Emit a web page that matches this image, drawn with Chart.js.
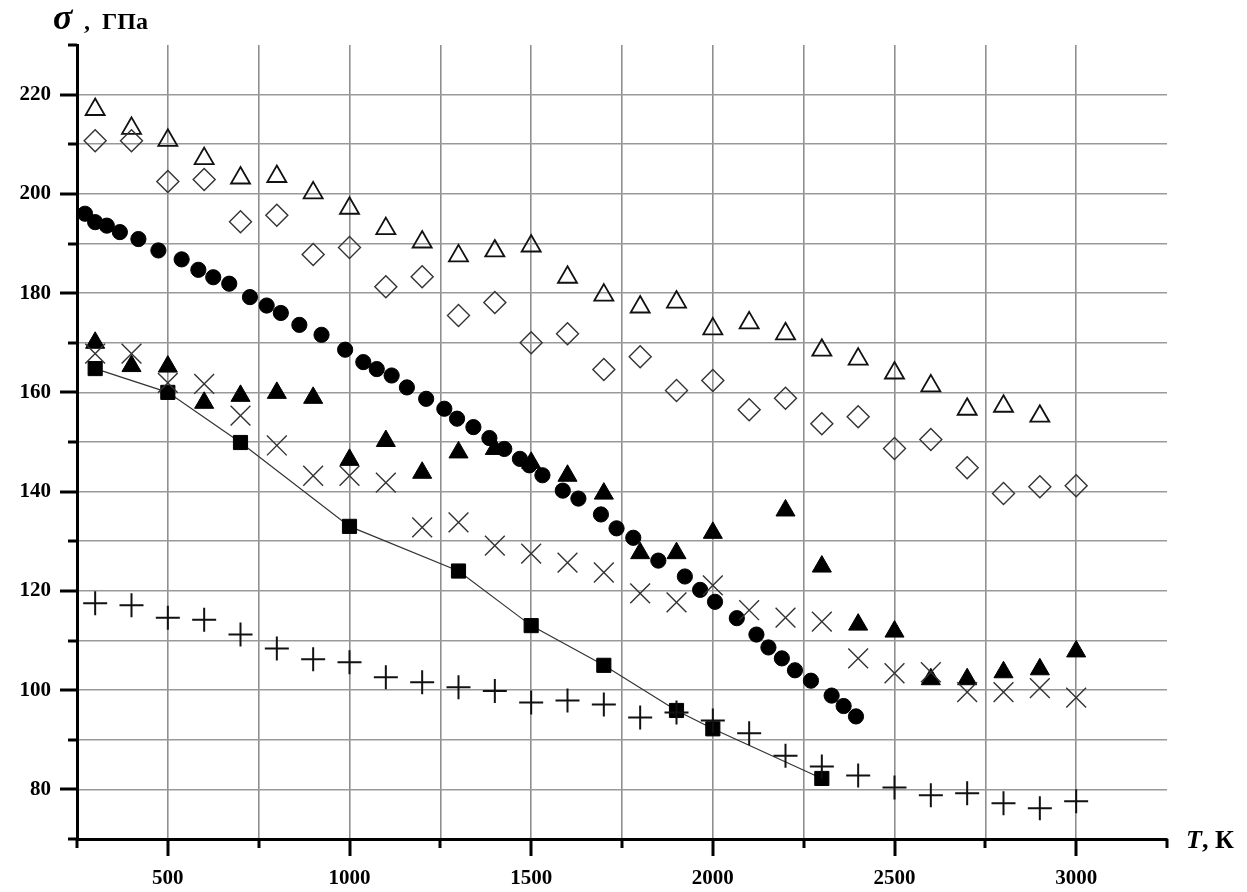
<!DOCTYPE html>
<html>
<head>
<meta charset="utf-8">
<script src="https://cdn.jsdelivr.net/npm/chart.js@4.4.1/dist/chart.umd.min.js"></script>
<style>
  html, body { margin: 0; padding: 0; background: #fff; }
  #wrap { width: 1247px; height: 892px; position: relative; }
</style>
</head>
<body>
<div id="wrap"><canvas id="c" width="1247" height="892"></canvas></div>
<script>
// ---- Data ----
const T_FULL = [300,400,500,600,700,800,900,1000,1100,1200,1300,1400,1500,1600,1700,1800,1900,2000,2100,2200,2300,2400,2500,2600,2700,2800,2900,3000];

const openTriT = [300,400,500,600,700,800,900,1000,1100,1200,1300,1400,1500,1600,1700,1800,1900,2000,2100,2200,2300,2400,2500,2600,2700,2800,2900];
const openTriS = [217.0,213.2,210.8,207.1,203.2,203.5,200.2,197.1,193.0,190.3,187.5,188.5,189.5,183.2,179.6,177.2,178.2,172.8,174.0,171.8,168.5,166.7,163.9,161.3,156.6,157.2,155.2];

const diamondT = T_FULL;
const diamondS = [210.7,210.7,202.5,202.9,194.4,195.7,187.8,189.2,181.3,183.3,175.5,178.1,170.0,171.8,164.6,167.2,160.4,162.4,156.5,158.8,153.7,155.1,148.7,150.5,144.8,139.6,141.0,141.2];

const circleT = [272,300,332,368,419,474,538,584,625,669,726,772,811,862,923,988,1038,1075,1116,1158,1211,1261,1296,1341,1385,1426,1469,1495,1531,1587,1630,1692,1735,1781,1850,1923,1965,2006,2066,2120,2153,2190,2226,2270,2327,2360,2394];
const circleS = [196.0,194.3,193.6,192.3,190.9,188.6,186.8,184.7,183.2,181.9,179.2,177.5,176.0,173.6,171.6,168.6,166.1,164.7,163.4,161.0,158.7,156.7,154.7,153.0,150.8,148.6,146.6,145.3,143.3,140.2,138.6,135.4,132.6,130.7,126.1,122.9,120.2,117.8,114.5,111.2,108.6,106.4,104.0,101.9,98.9,96.8,94.7];

const filledTriT = [300,400,500,600,700,800,900,1000,1100,1200,1300,1400,1500,1600,1700,1800,1900,2000,2200,2300,2400,2500,2600,2700,2800,2900,3000];
const filledTriS = [170.0,165.3,165.2,157.9,159.3,159.9,158.9,146.4,150.2,143.8,147.9,148.6,145.8,143.2,139.6,127.6,127.6,131.7,136.2,124.9,113.2,111.8,102.2,102.2,103.6,104.2,107.8];

const crossT = T_FULL;
const crossS = [167.8,167.8,161.9,161.7,155.3,149.3,143.2,143.2,141.8,132.8,133.8,129.1,127.5,125.7,123.7,119.5,117.7,121.1,116.1,114.6,113.8,106.4,103.4,103.6,99.6,99.6,100.4,98.5];

const squareT = [300,500,700,1000,1300,1500,1700,1900,2000,2300];
const squareS = [164.8,160.0,149.9,133.0,124.0,113.0,105.0,95.9,92.2,82.2];

const plusT = T_FULL;
const plusS = [117.5,117.1,114.6,114.2,111.2,108.4,106.2,105.6,102.6,101.6,100.6,99.8,97.5,97.9,97.1,94.5,95.5,93.9,91.3,86.8,84.6,82.8,80.4,78.8,79.2,77.2,76.2,77.6];

const X_MIN = 250, X_MAX = 3250, X_STEP = 250;
const X_LABELS = [500,1000,1500,2000,2500,3000];
const Y_MIN = 70, Y_MAX = 230, Y_STEP = 10;
const Y_LABELS = [80,100,120,140,160,180,200,220];

const Y_TITLE_SYMBOL = 'σ';
const Y_TITLE_UNIT = ',  ГПа';
const X_TITLE_SYMBOL = 'T';
const X_TITLE_UNIT = ', К';

// ---- helpers ----
const pts = (xs, ys) => xs.map((v, i) => ({ x: v, y: ys[i] }));
const SERIF = '"Liberation Serif", "DejaVu Serif", serif';

const axisDecor = {
  id: 'axisDecor',
  afterDraw(chart) {
    const { ctx, scales: { x, y }, chartArea: a } = chart;
    ctx.save();
    ctx.strokeStyle = '#000';
    ctx.lineWidth = 3;
    y.ticks.forEach(t => {
      const py = Math.round(y.getPixelForValue(t.value));
      const len = (Y_LABELS.includes(t.value) ? 17 : 9);
      ctx.beginPath(); ctx.moveTo(a.left - len, py); ctx.lineTo(a.left, py); ctx.stroke();
    });
    x.ticks.forEach(t => {
      const px = Math.round(x.getPixelForValue(t.value));
      const len = (X_LABELS.includes(t.value) ? 17 : 9);
      ctx.beginPath(); ctx.moveTo(px, a.bottom); ctx.lineTo(px, a.bottom + len); ctx.stroke();
    });
    // axis titles
    ctx.fillStyle = '#000';
    ctx.textBaseline = 'alphabetic';
    ctx.textAlign = 'left';
    ctx.font = 'italic bold 36px ' + SERIF;
    ctx.fillText(Y_TITLE_SYMBOL, 53, 29);
    ctx.font = 'bold 24px ' + SERIF;
    ctx.fillText(Y_TITLE_UNIT, 84, 29);
    ctx.font = 'italic bold 26px ' + SERIF;
    ctx.fillText(X_TITLE_SYMBOL, 1186, 848);
    const wT = ctx.measureText(X_TITLE_SYMBOL).width;
    ctx.font = 'bold 26px ' + SERIF;
    ctx.fillText(X_TITLE_UNIT, 1186 + wT, 848);
    ctx.restore();
  }
};

const ds = (label, data, style, radius, bg, border, bw, extra) => Object.assign({
  label, data, pointStyle: style, pointRadius: radius, pointHoverRadius: radius,
  backgroundColor: bg, borderColor: border, pointBorderWidth: bw, borderWidth: bw,
  showLine: false
}, extra || {});

new Chart(document.getElementById('c'), {
  type: 'scatter',
  data: {
    datasets: [
      ds('plus', pts(plusT, plusS), 'cross', 12, '#111', '#111', 2),
      ds('cross', pts(crossT, crossS), 'crossRot', 14, '#333', '#333', 1.4),
      ds('square', pts(squareT, squareS), 'rect', 10, '#000', '#000', 1,
         { showLine: true, borderColor: '#333', borderWidth: 1.2, pointBorderColor: '#000', pointBackgroundColor: '#000', tension: 0 }),
      ds('filledTri', pts(filledTriT, filledTriS), 'triangle', 11, '#000', '#000', 1),
      ds('circle', pts(circleT, circleS), 'circle', 7.6, '#000', '#000', 1),
      ds('diamond', pts(diamondT, diamondS), 'rectRot', 11, 'rgba(255,255,255,0)', '#333', 1.4),
      ds('openTri', pts(openTriT, openTriS), 'triangle', 11, 'rgba(255,255,255,0)', '#111', 1.8)
    ]
  },
  options: {
    responsive: false,
    animation: false,
    events: [],
    layout: { padding: { top: 45, right: 80, left: 0, bottom: 0 } },
    plugins: { legend: { display: false }, tooltip: { enabled: false } },
    scales: {
      x: {
        type: 'linear', min: X_MIN, max: X_MAX,
        afterFit: s => { s.height = 53; },
        border: { display: true, color: '#000', width: 3 },
        grid: {
          color: c => (c.tick && (c.tick.value === X_MIN || c.tick.value === X_MAX)) ? 'rgba(0,0,0,0)' : '#8f8f8f',
          lineWidth: 1.6, drawTicks: true, tickLength: 17, tickColor: 'rgba(0,0,0,0)'
        },
        ticks: {
          stepSize: X_STEP, autoSkip: false, maxRotation: 0, padding: 10,
          color: '#000', font: { family: SERIF, size: 21, weight: 'bold' },
          callback: v => X_LABELS.includes(v) ? String(v) : ''
        }
      },
      y: {
        type: 'linear', min: Y_MIN, max: Y_MAX,
        afterFit: s => { s.width = 77; },
        border: { display: true, color: '#000', width: 3 },
        grid: {
          color: c => (c.tick && (c.tick.value === Y_MAX || c.tick.value === Y_MIN)) ? 'rgba(0,0,0,0)' : '#999999',
          lineWidth: 1.6, drawTicks: true, tickLength: 17, tickColor: 'rgba(0,0,0,0)'
        },
        ticks: {
          stepSize: Y_STEP, autoSkip: false, padding: 9,
          color: '#000', font: { family: SERIF, size: 21, weight: 'bold' },
          callback: v => Y_LABELS.includes(v) ? String(v) : ''
        }
      }
    }
  },
  plugins: [axisDecor]
});
</script>
</body>
</html>
